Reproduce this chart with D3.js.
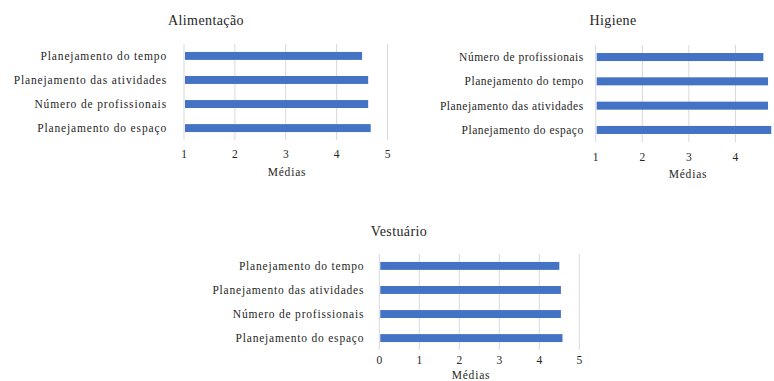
<!DOCTYPE html>
<html>
<head>
<meta charset="utf-8">
<script src="https://cdn.jsdelivr.net/npm/d3@7/dist/d3.min.js"></script>
<style>
  html, body { margin: 0; padding: 0; background: #fff; }
  svg { display: block; }
</style>
</head>
<body>
<svg id="chart" width="774" height="381"></svg>
<script>
// Category labels (top to bottom) and mean scores for each panel
const alimentacaoCats = ["Planejamento do tempo", "Planejamento das atividades", "Número de profissionais", "Planejamento do espaço"];
const alimentacaoVals = [4.50, 4.62, 4.62, 4.67];

const higieneCats = ["Número de profissionais", "Planejamento do tempo", "Planejamento das atividades", "Planejamento do espaço"];
const higieneVals = [4.60, 4.70, 4.70, 4.77];

const vestuarioCats = ["Planejamento do tempo", "Planejamento das atividades", "Número de profissionais", "Planejamento do espaço"];
const vestuarioVals = [4.50, 4.54, 4.54, 4.58];

const alimentacaoTicks = [1, 2, 3, 4, 5];
const higieneTicks = [1, 2, 3, 4];
const vestuarioTicks = [0, 1, 2, 3, 4, 5];

const axisTitle = "Médias";

const FONT = "Liberation Serif";
const INK = "#262626";
const svg = d3.select("#chart");

// Panel layout: plot box, domain and title placement
const panels = [
  { title: "Alimentação", cats: alimentacaoCats, vals: alimentacaoVals, ticks: alimentacaoTicks,
    domain: [1, 5], x0: 184, x1: 387.5, y0: 44, y1: 140, titleX: 206, titleY: 25,
    tickY: 158, axisTitleX: 287, axisTitleY: 176, labelGap: 17, spacing: 0.85 },
  { title: "Higiene", cats: higieneCats, vals: higieneVals, ticks: higieneTicks,
    domain: [1, 5], x0: 595.7, x1: 782, y0: 45, y1: 142, titleX: 613, titleY: 25,
    tickY: 161, axisTitleX: 688, axisTitleY: 178, labelGap: 12, spacing: 0.5 },
  { title: "Vestuário", cats: vestuarioCats, vals: vestuarioVals, ticks: vestuarioTicks,
    domain: [0, 5], x0: 379.3, x1: 579.3, y0: 254, y1: 350, titleX: 399, titleY: 236,
    tickY: 363.5, axisTitleX: 471, axisTitleY: 378.5, labelGap: 15, spacing: 0.8 }
];

function label(sel, size, spacing) {
  return sel.style("font-family", FONT)
    .style("font-size", size + "px")
    .style("letter-spacing", spacing + "px")
    .style("fill", INK);
}

panels.forEach(p => {
  const g = svg.append("g");
  const x = d3.scaleLinear().domain(p.domain).range([p.x0, p.x1]);
  const y = d3.scaleBand().domain(p.cats).range([p.y0, p.y1]).paddingInner(0.67).paddingOuter(0.33);

  // vertical gridlines
  g.selectAll("line.grid").data(p.ticks).enter().append("line")
    .attr("class", "grid")
    .attr("x1", d => x(d)).attr("x2", d => x(d))
    .attr("y1", p.y0).attr("y2", p.y1)
    .attr("stroke", "#d9d9d9").attr("stroke-width", 1);

  // bars
  g.selectAll("rect.bar").data(p.cats).enter().append("rect")
    .attr("class", "bar")
    .attr("x", x(p.domain[0]) + 1)
    .attr("y", d => y(d))
    .attr("width", (d, i) => x(p.vals[i]) - x(p.domain[0]) - 1)
    .attr("height", y.bandwidth())
    .attr("fill", "#4472c4");

  // category labels
  label(g.selectAll("text.cat").data(p.cats).enter().append("text")
    .attr("class", "cat")
    .attr("x", p.x0 - p.labelGap)
    .attr("y", d => y(d) + y.bandwidth() / 2)
    .attr("dy", "0.35em")
    .attr("text-anchor", "end")
    .text(d => d), 11.5, p.spacing);

  // tick labels
  label(g.selectAll("text.tick").data(p.ticks).enter().append("text")
    .attr("class", "tick")
    .attr("x", d => x(d))
    .attr("y", p.tickY)
    .attr("text-anchor", "middle")
    .text(d => d), 11.5, 0);

  // axis title
  label(g.append("text")
    .attr("x", p.axisTitleX).attr("y", p.axisTitleY)
    .attr("text-anchor", "middle")
    .text(axisTitle), 11.5, 0.8);

  // panel title
  label(g.append("text")
    .attr("x", p.titleX).attr("y", p.titleY)
    .attr("text-anchor", "middle")
    .text(p.title), 14, 0.4);
});
</script>
</body>
</html>
